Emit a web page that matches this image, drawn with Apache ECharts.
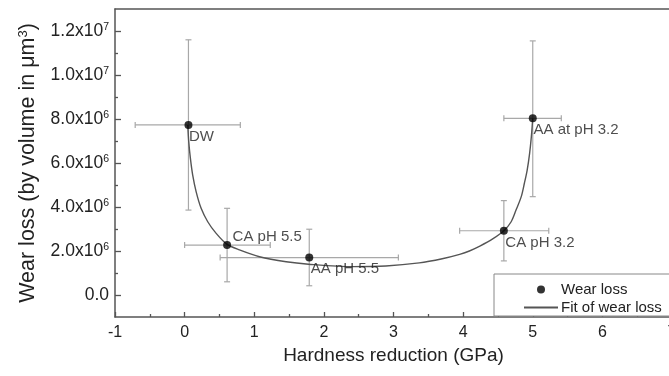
<!DOCTYPE html>
<html>
<head>
<meta charset="utf-8">
<script src="https://cdn.jsdelivr.net/npm/echarts@6/dist/echarts.min.js"></script>
<style>html,body{margin:0;padding:0;background:#fff;}#c{width:669px;height:376px;}</style>
</head>
<body>
<div id="c"></div>
<script>
// ---- data ----
const pointNames = ['DW', 'CA pH 5.5', 'AA pH 5.5', 'CA pH 3.2', 'AA at pH 3.2'];
const pointX = [0.055, 0.61, 1.79, 4.585, 5.0];
const pointY = [7.73e6, 2.27e6, 1.70e6, 2.92e6, 8.03e6];
const xErrLow = [-0.71, 0.0, 0.51, 3.95, 4.585];
const xErrHigh = [0.80, 1.23, 3.07, 5.23, 5.41];
const yErrLow = [3.86e6, 0.60e6, 0.42e6, 1.55e6, 4.47e6];
const yErrHigh = [11.6e6, 3.94e6, 2.99e6, 4.29e6, 11.55e6];
const fitX = [0.045, 0.059, 0.083, 0.116, 0.165, 0.237, 0.332, 0.453, 0.61, 0.787, 1.075, 1.458, 1.78, 2.415, 2.89, 3.37, 3.7, 3.95, 4.09, 4.24, 4.43, 4.585, 4.69, 4.76, 4.835, 4.88, 4.92, 4.955, 4.98, 5.0];
const fitY = [7.73e6, 6.97e6, 6.21e6, 5.45e6, 4.70e6, 3.94e6, 3.33e6, 2.80e6, 2.30e6, 2.05e6, 1.74e6, 1.51e6, 1.40e6, 1.29e6, 1.32e6, 1.46e6, 1.65e6, 1.85e6, 2.00e6, 2.22e6, 2.56e6, 2.92e6, 3.33e6, 3.86e6, 4.47e6, 5.08e6, 5.68e6, 6.44e6, 7.20e6, 8.03e6];
const yMajorTicks = [0, 2e6, 4e6, 6e6, 8e6, 10e6, 12e6];
const yMinorTicks = [1e6, 3e6, 5e6, 7e6, 9e6, 11e6];
const labelOffsets = [[4.5, 16], [9.5, -4.5], [5.5, 15.6], [5.5, 15.8], [4.7, 15.7]];

const FONT = 'Liberation Sans, Arial, sans-serif';
const chart = echarts.init(document.getElementById('c'), null, {renderer: 'canvas'});

function yFmt(v) {
  if (v === 0) return '{m|0.0}';
  const e = Math.floor(Math.log10(v) + 1e-9);
  const m = (v / Math.pow(10, e)).toFixed(1);
  return '{m|' + m + 'x10}{s|' + e + '}';
}

const errData = pointX.map((x, i) => [x, pointY[i], xErrLow[i], xErrHigh[i], yErrLow[i], yErrHigh[i]]);
const scatterData = pointX.map((x, i) => ({
  value: [x, pointY[i]],
  label: {position: labelOffsets[i]}
}));
const fitData = fitX.map((x, i) => [x, fitY[i]]);

const option = {
  animation: false,
  textStyle: {fontFamily: FONT},
  grid: {left: 115, right: -3, top: 9, bottom: 59, containLabel: false, outerBoundsMode: 'none'},
  xAxis: [{
    type: 'value', min: -1, max: 7, interval: 1,
    name: 'Hardness reduction (GPa)', nameLocation: 'middle', nameGap: 28,
    nameTextStyle: {fontSize: 19, color: '#222', fontFamily: FONT},
    axisLine: {show: true, onZero: false, lineStyle: {color: '#555', width: 1.5}},
    axisTick: {show: true, inside: true, length: 5, lineStyle: {color: '#555', width: 1.3}},
    minorTick: {show: true, splitNumber: 2, length: 3, lineStyle: {color: '#555', width: 1.3}},
    axisLabel: {fontSize: 16, color: '#222', margin: 8, fontFamily: FONT},
    splitLine: {show: false}
  }, {
    type: 'value', min: -1, max: 7, position: 'top',
    axisLine: {show: true, onZero: false, lineStyle: {color: '#555', width: 1.5}},
    axisTick: {show: false}, axisLabel: {show: false}, splitLine: {show: false}
  }],
  yAxis: [{
    type: 'value', min: -1e6, max: 1.3e7,
    name: '{a|Wear loss (by volume in μm}{s|3}{a|)}', nameLocation: 'middle', nameGap: 76,
    nameTextStyle: {
      color: '#222', fontFamily: FONT,
      rich: {a: {fontSize: 21.5, color: '#222', fontFamily: FONT}, s: {fontSize: 13, color: '#222', verticalAlign: 'top', fontFamily: FONT}}
    },
    axisLine: {show: true, onZero: false, lineStyle: {color: '#555', width: 1.5}},
    axisTick: {show: true, inside: true, length: 6, customValues: yMajorTicks, lineStyle: {color: '#555', width: 1.3}},
    axisLabel: {
      customValues: yMajorTicks, margin: 6, formatter: yFmt,
      rich: {m: {fontSize: 17.5, color: '#222', fontFamily: FONT}, s: {fontSize: 10.5, color: '#222', verticalAlign: 'top', padding: [0, 0, 4, 0], fontFamily: FONT}}
    },
    splitLine: {show: false}
  }, {
    type: 'value', min: -1e6, max: 1.3e7, position: 'left',
    axisLine: {show: false, onZero: false},
    axisTick: {show: true, inside: true, length: 3, customValues: yMinorTicks, lineStyle: {color: '#555', width: 1.3}},
    axisLabel: {show: false}, splitLine: {show: false}
  }],
  legend: {
    orient: 'vertical', left: 494, top: 274,
    padding: [8, 40, 1, 29],
    borderColor: '#888', borderWidth: 1, backgroundColor: '#fff',
    itemWidth: 34, itemHeight: 8, itemGap: 3,
    textStyle: {fontSize: 15, color: '#222', fontFamily: FONT, padding: [0, 0, 0, -2]},
    data: [
      {name: 'Wear loss', icon: 'circle'},
      {name: 'Fit of wear loss', itemStyle: {opacity: 0}}
    ]
  },
  series: [{
    type: 'custom', name: 'err', silent: true, z: 1,
    data: errData,
    encode: {x: 0, y: 1},
    renderItem: function (params, api) {
      const x = api.value(0), y = api.value(1);
      const pl = api.coord([api.value(2), y]);
      const ph = api.coord([api.value(3), y]);
      const pb = api.coord([x, api.value(4)]);
      const pt = api.coord([x, api.value(5)]);
      const st = {stroke: '#a8a8a8', lineWidth: 1.2, fill: null};
      const c = 3;
      const L = (x1, y1, x2, y2) => ({type: 'line', shape: {x1, y1, x2, y2}, style: st});
      return {type: 'group', children: [
        L(pl[0], pl[1], ph[0], ph[1]),
        L(pl[0], pl[1] - c, pl[0], pl[1] + c),
        L(ph[0], ph[1] - c, ph[0], ph[1] + c),
        L(pb[0], pb[1], pt[0], pt[1]),
        L(pb[0] - c, pb[1], pb[0] + c, pb[1]),
        L(pt[0] - c, pt[1], pt[0] + c, pt[1])
      ]};
    }
  }, {
    type: 'line', name: 'Fit of wear loss', z: 2,
    data: fitData, smooth: 0.3, symbol: 'none', showSymbol: false,
    lineStyle: {color: '#555', width: 1.4}, itemStyle: {color: '#555'}
  }, {
    type: 'scatter', name: 'Wear loss', z: 3,
    data: scatterData, symbol: 'circle', symbolSize: 8,
    itemStyle: {color: '#000'},
    label: {
      show: true, align: 'left', verticalAlign: 'middle',
      fontSize: 15, color: '#222', fontFamily: FONT,
      formatter: p => pointNames[p.dataIndex]
    }
  }]
};
chart.setOption(option);
</script>
</body>
</html>
